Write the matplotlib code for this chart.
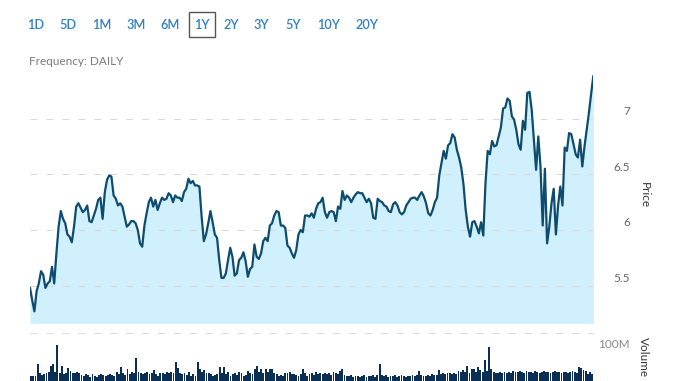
import matplotlib.pyplot as plt
from matplotlib.patches import Rectangle
from matplotlib.transforms import offset_copy

plt.rcParams['font.family'] = ['Lato', 'DejaVu Sans']

# trading-day index inside the 1Y window and the daily close
days = list(range(0, 43)) + list(range(44, 213)) + list(range(214, 257))
price = [
    5.48, 5.37, 5.27, 5.45, 5.52, 5.63, 5.60, 5.48, 5.52, 5.54,
    5.67, 5.52, 5.79, 6.03, 6.17, 6.10, 6.06, 5.96, 5.94, 5.89,
    6.03, 6.21, 6.24, 6.20, 6.16, 6.18, 6.22, 6.08, 6.07, 6.13,
    6.19, 6.27, 6.29, 6.10, 6.34, 6.45, 6.49, 6.48, 6.31, 6.28,
    6.22, 6.24, 6.21,
    6.03, 6.05, 6.08, 6.08, 6.06, 6.00, 5.88, 5.85, 6.04, 6.15,
    6.25, 6.29, 6.21, 6.27, 6.18, 6.24, 6.29, 6.27, 6.28, 6.33,
    6.31, 6.25, 6.31, 6.29, 6.29, 6.26, 6.34, 6.37, 6.46, 6.42,
    6.44, 6.40, 6.40, 6.39, 6.12, 5.90, 5.96, 6.06, 6.17, 6.07,
    5.96, 5.93, 5.73, 5.57,
    5.57, 5.61, 5.73, 5.84, 5.76, 5.59, 5.61, 5.73, 5.75, 5.80,
    5.72, 5.58, 5.65, 5.67, 5.87, 5.76, 5.74, 5.79, 5.90, 5.93,
    5.90, 6.04, 6.06, 6.13, 6.17, 6.16, 6.04, 6.04, 6.02, 5.86,
    5.84, 5.79, 5.75, 5.82, 5.96, 6.00, 5.98, 6.13, 6.13, 6.12,
    6.15, 6.11, 6.19,
    6.24, 6.25, 6.29, 6.16, 6.11, 6.16, 6.17, 6.16, 6.08, 6.21,
    6.19, 6.35, 6.27, 6.31, 6.29, 6.25, 6.29, 6.32, 6.34, 6.33,
    6.33, 6.29, 6.25, 6.28, 6.24, 6.11, 6.10, 6.28, 6.26, 6.25,
    6.22, 6.21, 6.17, 6.16, 6.23, 6.25, 6.22, 6.16, 6.14, 6.16,
    6.22, 6.25, 6.28,
    6.29, 6.29, 6.27, 6.31, 6.34, 6.30, 6.24, 6.15, 6.13, 6.18,
    6.25, 6.29, 6.49, 6.60, 6.71, 6.64, 6.76, 6.78, 6.86, 6.83,
    6.72, 6.65, 6.56, 6.41, 6.18, 6.03, 5.94, 6.07, 6.08, 6.03,
    5.97, 6.07, 5.95, 6.42, 6.71, 6.68, 6.80, 6.75, 6.76,
    6.92, 7.09, 7.10, 7.18, 7.16, 7.02, 6.99, 6.90, 6.77, 6.72,
    6.98, 6.90, 7.23, 7.24, 7.08, 6.81, 6.54, 6.84, 6.57, 6.04,
    6.55, 5.88, 6.03, 6.24, 6.37, 5.96, 6.22, 6.39, 6.22, 6.74,
    6.71, 6.87, 6.86, 6.77, 6.68, 6.65, 6.81, 6.57, 6.75, 6.90,
    7.05, 7.22, 7.38,
]

# daily volume in millions, one bar per session 0..256
volume_days = list(range(257))
volume_m = [
    37, 37, 38, 61, 44, 40, 41, 43, 45, 57,
    61, 45, 99, 44, 57, 42, 44, 53, 48, 44,
    43, 45, 44, 40, 37, 41, 39, 36, 41, 38,
    36, 39, 41, 40, 37, 39, 41, 39, 38, 45,
    42, 55, 43, 40, 51, 42, 45, 44, 72, 46,
    43, 41, 44, 45, 42, 44, 49, 41, 38, 43,
    44, 42, 45, 43, 45, 44, 65, 53, 44, 41,
    43, 40, 45, 38, 42, 38, 65, 51, 45, 49,
    43, 44, 41, 38, 40, 42, 55, 44, 55, 42,
    45, 37, 41, 43, 40, 45, 44, 37, 39, 47,
    43, 41, 51, 57, 46, 51, 44, 51, 45, 51,
    51, 44, 41, 37, 40, 38, 44, 43, 45, 41,
    42, 40, 38, 41, 51, 44, 38, 41, 44, 40,
    45, 42, 43, 41, 44, 42, 43, 40, 45, 44,
    42, 47, 51, 40, 38, 37, 39, 36, 38, 37,
    36, 38, 39, 36, 38, 37, 39, 36, 40, 61,
    40, 37, 39, 36, 38, 37, 39, 36, 38, 39,
    37, 36, 38, 37, 39, 38, 40, 47, 39, 37,
    38, 40, 38, 41, 39, 40, 49, 41, 43, 42,
    44, 43, 41, 44, 42, 47, 45, 49, 46, 57,
    44, 51, 51, 46, 55, 49, 45, 69, 48, 94,
    51, 45, 44, 43, 45, 44, 46, 43, 45, 44,
    47, 46, 45, 47, 46, 44, 47, 45, 46, 44,
    47, 45, 44, 46, 47, 45, 46, 44, 45, 47,
    45, 46, 44, 45, 46, 44, 45, 47, 45, 44,
    55, 53, 50, 47, 42, 45, 41,
]

range_buttons = ['1D', '5D', '1M', '3M', '6M', '1Y', '2Y', '3Y', '5Y', '10Y', '20Y']
selected_range = '1Y'
price_ticks = [5.5, 6, 6.5, 7]
price_tick_labels = ['5.5', '6', '6.5', '7']

W, H = 678, 381
LINE = '#0d4c6e'
FILL = '#cff0fc'
GRID = '#d9d9d9'
BLUE = '#2f80c4'

fig = plt.figure(figsize=(W / 100, H / 100), dpi=100)

# price pane
ax = fig.add_axes([30 / W, (H - 323.3) / H, 563.3 / W, 258.3 / H])
ymin, ymax = 5.1625, 7.481
ax.fill_between(days, price, ymin, color=FILL, linewidth=0, zorder=1)
ax.plot(days, price, color=LINE, linewidth=1.6, zorder=3)
ax.set_xlim(0, 256)
ax.set_ylim(ymin, ymax)
for t in price_ticks:
    ax.axhline(t, color=GRID, linewidth=0.75, dashes=(6.7, 8.6), zorder=2)
ax.axis('off')

# tick labels sit a little above their grid lines, right of the plot
lab_tr = offset_copy(ax.get_yaxis_transform(), fig=fig, y=7, units='dots')
for t, lab in zip(price_ticks, price_tick_labels):
    ax.text(1.0652, t, lab, transform=lab_tr, ha='right', va='center',
            fontsize=8.5, color='#666666')
fig.text(644 / W, 1 - 195 / H, 'Price', rotation=270, ha='center', va='center',
         fontsize=8.5, color='#333333')

# volume pane
axv = fig.add_axes([30 / W, 0, 563.3 / W, 48 / H])
vmin, vmax = 27.5, 121.6
axv.bar(volume_days, volume_m, width=0.85, color='#0a2e54', linewidth=0)
axv.set_xlim(-0.5, 256.5)
axv.set_ylim(vmin, vmax)
axv.axhline(vmax, color=GRID, linewidth=0.75, dashes=(6.7, 8.6), clip_on=False)
axv.axis('off')
axv.text(1.0652, 100, '100M', transform=axv.get_yaxis_transform(),
         ha='right', va='center', fontsize=8.5, color='#888888')
fig.text(643 / W, 1 - 357 / H, 'Volume', rotation=270, ha='center', va='center',
         fontsize=8.5, color='#333333')

# range selector and frequency note
button_x = [36, 68.3, 101.7, 136, 170, 201.7, 231, 261.7, 293.3, 328.3, 366.7]
for bx, lab in zip(button_x, range_buttons):
    fig.text(bx / W, 1 - 25 / H, lab, ha='center', va='center',
             fontsize=9.2, color=BLUE, fontweight='semibold')
    if lab == selected_range:
        fig.patches.append(Rectangle((189 / W, 1 - 37.3 / H), 26 / W, 25 / H,
                                     transform=fig.transFigure, fill=False,
                                     edgecolor='#555555', linewidth=1))
fig.text(29.3 / W, 1 - 61.7 / H, 'Frequency: DAILY', ha='left', va='center',
         fontsize=8.5, color='#7a7a7a')

fig.savefig('out.png', dpi=100)
